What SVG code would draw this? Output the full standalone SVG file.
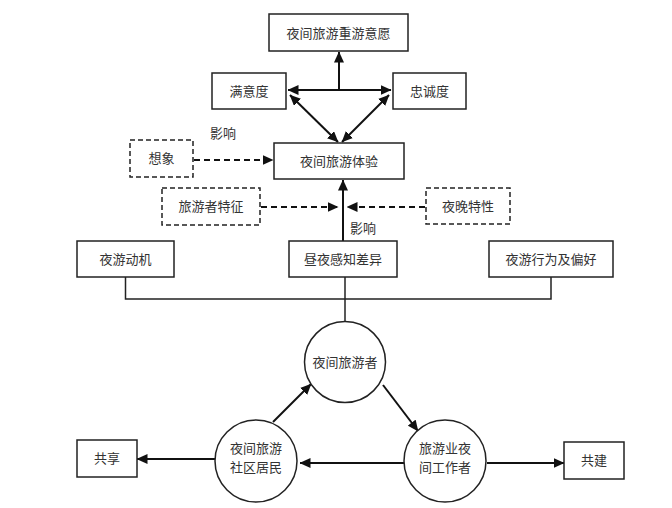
<svg xmlns="http://www.w3.org/2000/svg" width="672" height="508" viewBox="0 0 672 508">
<defs>
<marker id="ah" viewBox="0 0 11 10" refX="10.5" refY="5" markerWidth="11" markerHeight="10" markerUnits="userSpaceOnUse" orient="auto-start-reverse">
<path d="M0,0 L11,5 L0,10 z" fill="#111"/>
</marker>
</defs>
<style>
.box{fill:#fff;stroke:#222;stroke-width:1.5}
.dbox{fill:#fff;stroke:#222;stroke-width:1.5;stroke-dasharray:5,3}
.cir{fill:#fff;stroke:#222;stroke-width:1.5}
.t{font-family:"Noto Sans CJK SC","Noto Sans CJK JP",sans-serif;font-size:13px;fill:#333;text-anchor:middle}
.ln{fill:none;stroke:#111;stroke-width:2}
.dl{fill:none;stroke:#111;stroke-width:2;stroke-dasharray:6,4}
.pl{fill:none;stroke:#222;stroke-width:1.5}
</style>
<rect width="672" height="508" fill="#fff"/>
<g id="connectors">
<line class="ln" x1="339" y1="90" x2="339" y2="52" marker-end="url(#ah)"/>
<line class="ln" x1="288" y1="90" x2="391" y2="90" marker-start="url(#ah)" marker-end="url(#ah)"/>
<line class="ln" x1="290" y1="95" x2="338" y2="142" marker-start="url(#ah)" marker-end="url(#ah)"/>
<line class="ln" x1="389" y1="95" x2="342" y2="142" marker-start="url(#ah)" marker-end="url(#ah)"/>
<line class="dl" x1="194" y1="160" x2="273" y2="160" marker-end="url(#ah)"/>
<line class="dl" x1="261" y1="207" x2="338" y2="207" marker-end="url(#ah)"/>
<line class="dl" x1="425" y1="207" x2="347" y2="207" marker-end="url(#ah)"/>
<line class="ln" x1="343" y1="241" x2="343" y2="180" marker-end="url(#ah)"/>
<polyline class="pl" points="125.5,277 125.5,299 551,299 551,277"/>
<line class="pl" x1="345" y1="277" x2="345" y2="322"/>
<line class="ln" x1="273" y1="422" x2="311" y2="384" marker-end="url(#ah)"/>
<line class="ln" x1="383" y1="385" x2="418" y2="431" marker-end="url(#ah)"/>
<line class="ln" x1="404" y1="463" x2="300" y2="463" marker-end="url(#ah)"/>
<line class="ln" x1="215" y1="459" x2="137" y2="459" marker-end="url(#ah)"/>
<line class="ln" x1="487" y1="463" x2="564" y2="463" marker-end="url(#ah)"/>
</g>
<g id="n-intent"><rect class="box" x="269" y="14" width="139" height="37"/><text class="t" x="338.5" y="37.5">夜间旅游重游意愿</text></g>
<g id="n-satisfaction"><rect class="box" x="212" y="73" width="74" height="36"/><text class="t" x="249" y="95.5">满意度</text></g>
<g id="n-loyalty"><rect class="box" x="393" y="73" width="73" height="36"/><text class="t" x="429.5" y="95.5">忠诚度</text></g>
<g id="n-experience"><rect class="box" x="274" y="143" width="130" height="36"/><text class="t" x="339" y="165.5">夜间旅游体验</text></g>
<g id="n-imagination"><rect class="dbox" x="130" y="140" width="63" height="37"/><text class="t" x="161.5" y="163">想象</text></g>
<g id="l-influence1"><text class="t" x="223" y="137.5">影响</text></g>
<g id="n-traits"><rect class="dbox" x="162" y="188" width="98" height="37"/><text class="t" x="211" y="211">旅游者特征</text></g>
<g id="n-night"><rect class="dbox" x="426" y="188" width="84" height="36"/><text class="t" x="468" y="211">夜晚特性</text></g>
<g id="l-influence2"><text class="t" x="363" y="232.5">影响</text></g>
<g id="n-motivation"><rect class="box" x="77" y="241" width="97" height="36"/><text class="t" x="125.5" y="263.5">夜游动机</text></g>
<g id="n-perception"><rect class="box" x="289" y="241" width="108" height="36"/><text class="t" x="343" y="263.5">昼夜感知差异</text></g>
<g id="n-behavior"><rect class="box" x="489" y="241" width="124" height="36"/><text class="t" x="551" y="263.5">夜游行为及偏好</text></g>
<g id="n-tourist"><circle class="cir" cx="345" cy="362" r="40.5"/><text class="t" x="345" y="366.5">夜间旅游者</text></g>
<g id="n-residents"><circle class="cir" cx="256" cy="461" r="41"/><text class="t" x="256" y="453">夜间旅游</text><text class="t" x="256" y="472">社区居民</text></g>
<g id="n-workers"><circle class="cir" cx="445" cy="461" r="41"/><text class="t" x="445" y="453">旅游业夜</text><text class="t" x="445" y="472">间工作者</text></g>
<g id="n-share"><rect class="box" x="77" y="440" width="60" height="37"/><text class="t" x="107" y="463">共享</text></g>
<g id="n-build"><rect class="box" x="564" y="442" width="60" height="37"/><text class="t" x="594" y="465">共建</text></g>
</svg>
